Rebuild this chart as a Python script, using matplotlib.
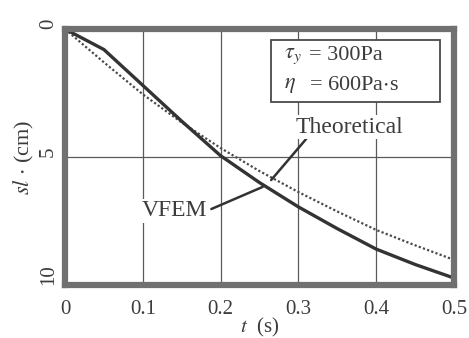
import numpy as np
import matplotlib
matplotlib.use('Agg')
import matplotlib.pyplot as plt
from matplotlib.patches import Rectangle

# data
t = [0, 0.05, 0.1, 0.15, 0.2, 0.25, 0.3, 0.35, 0.4, 0.45, 0.5]
sl_vfem = [0, 0.8, 2.2, 3.6, 4.95, 6.0, 6.95, 7.8, 8.6, 9.2, 9.73]
sl_theory = [0, 1.3, 2.55, 3.65, 4.65, 5.55, 6.37, 7.13, 7.85, 8.45, 9.02]

x_ticks = [0, 0.1, 0.2, 0.3, 0.4, 0.5]
x_ticklabels = ['0', '0.1', '0.2', '0.3', '0.4', '0.5']
y_ticks = [0, 5, 10]
y_ticklabels = ['0', '5', '10']

plt.rcParams['font.family'] = ['Liberation Serif', 'DejaVu Serif']
plt.rcParams['mathtext.fontset'] = 'stix'

txt = '#3c3c3c'
frame = '#707070'
grid = '#5a5a5a'

fig = plt.figure(figsize=(4.69, 3.38), dpi=100)
ax = fig.add_axes([0.1386, 0.157, 0.968 - 0.1386, 0.914 - 0.157])

ax.set_xlim(0, 0.5)
ax.set_ylim(10, 0)

# grid
for xv in [0.1, 0.2, 0.3, 0.4]:
    ax.axvline(xv, color=grid, lw=0.9, zorder=1)
ax.axhline(5, color=grid, lw=0.9, zorder=1)

ax.plot(t, sl_theory, color='#4a4a4a', lw=1.6, ls=(0, (1, 1)), zorder=3)
ax.plot(t, sl_vfem, color='#333333', lw=2.4, zorder=4)

# parameter box
ax.add_patch(Rectangle((0.265, 0.43), 0.217, 2.42, facecolor='white',
                       edgecolor='#4a4a4a', lw=1.3, zorder=5))
ax.text(0.282, 1.05, r'$\tau_y$', fontsize=16, color=txt, va='center', zorder=6)
ax.text(0.314, 1.05, '= 300Pa', fontsize=16, color=txt, va='center', zorder=6)
ax.text(0.282, 2.2, r'$\eta$', fontsize=16, color=txt, va='center', zorder=6)
ax.text(0.314, 2.2, '= 600Pa$\\cdot$s', fontsize=16, color=txt, va='center', zorder=6)

# labels with pointer lines
ax.annotate('Theoretical', xy=(0.265, 5.9), xytext=(0.365, 3.83),
            fontsize=17, color=txt, ha='center', va='center', zorder=6,
            bbox=dict(facecolor='white', edgecolor='none', pad=1),
            arrowprops=dict(arrowstyle='-', color='#333333', lw=1.8,
                            shrinkA=0, shrinkB=0,
                            relpos=(0.28, 1.0)))
ax.annotate('VFEM', xy=(0.254, 6.17), xytext=(0.141, 7.1),
            fontsize=17, color=txt, ha='center', va='center', zorder=6,
            bbox=dict(facecolor='white', edgecolor='none', pad=1),
            arrowprops=dict(arrowstyle='-', color='#333333', lw=1.8,
                            shrinkA=2, shrinkB=0,
                            relpos=(1.0, 0.5)))

for s in ax.spines.values():
    s.set_linewidth(4.5)
    s.set_color(frame)
    s.set_zorder(7)

ax.set_xticks(x_ticks)
ax.set_xticklabels(x_ticklabels, fontsize=15, color=txt)
ax.set_yticks(y_ticks)
ax.set_yticklabels(y_ticklabels, fontsize=15, color=txt, rotation=90, va='bottom')
ax.tick_params(axis='x', length=0, pad=11)
ax.tick_params(axis='y', length=0, pad=5)

ax.set_xlabel('$t$  (s)', fontsize=15, color=txt, labelpad=-2)
ax.set_ylabel('$sl$ $\\cdot$ (cm)', fontsize=16, color=txt, labelpad=2)

fig.savefig('out.png', dpi=100)
